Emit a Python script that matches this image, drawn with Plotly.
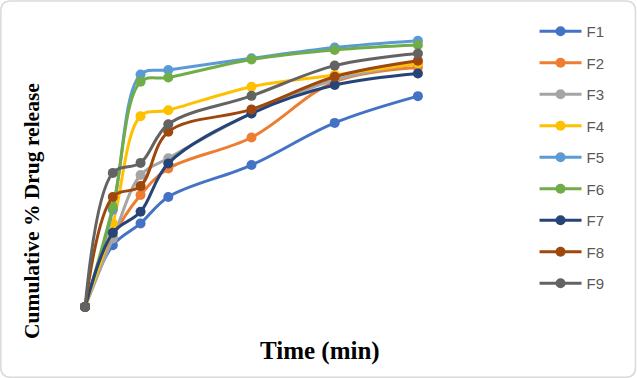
import plotly.graph_objects as go

time_min = [0, 5, 10, 15, 30, 45, 60]
series_names = ["F1", "F2", "F3", "F4", "F5", "F6", "F7", "F8", "F9"]
F1 = [0, 22.8, 30.9, 40.7, 52.5, 68.1, 78.0]
F2 = [0, 25.9, 41.4, 51.2, 62.7, 83.3, 88.6]
F3 = [0, 25.3, 48.8, 55.0, 71.6, 84.0, 90.1]
F4 = [0, 30.9, 70.6, 72.8, 81.5, 85.8, 90.1]
F5 = [0, 36.0, 86.0, 87.7, 92.0, 96.0, 98.5]
F6 = [0, 37.0, 83.3, 84.9, 91.6, 95.1, 96.9]
F7 = [0, 27.4, 35.2, 53.1, 71.6, 82.1, 86.4]
F8 = [0, 40.7, 44.7, 64.8, 73.1, 85.2, 91.1]
F9 = [0, 49.6, 53.3, 67.6, 78.1, 89.3, 93.8]
values = [F1, F2, F3, F4, F5, F6, F7, F8, F9]
colors = ["#4472C4", "#ED7D31", "#A5A5A5", "#FFC000", "#5B9BD5",
          "#70AD47", "#264478", "#9E480E", "#636363"]

W_FIG, H_FIG = 637, 378
L, R, T, B = 74.2, 207.6, 34.0, 63.2
PW, PH = W_FIG - L - R, H_FIG - T - B

def px(x):
    return (x - L) / PW

def py(y):
    return 1 - (y - T) / PH

fig = go.Figure()
for name, vals, col in zip(series_names, values, colors):
    fig.add_trace(go.Scatter(
        x=time_min, y=vals, name=name, mode="lines+markers",
        line=dict(color=col, width=3, shape="spline", smoothing=1),
        marker=dict(color=col, size=10),
        legendgroup=name, cliponaxis=False,
    ))

# rounded border
r = 10
x0, x1, y0, y1 = 1, 636, 1, 377
path = (f"M {px(x0 + r)} {py(y0)} L {px(x1 - r)} {py(y0)} "
        f"Q {px(x1)} {py(y0)} {px(x1)} {py(y0 + r)} "
        f"L {px(x1)} {py(y1 - r)} Q {px(x1)} {py(y1)} {px(x1 - r)} {py(y1)} "
        f"L {px(x0 + r)} {py(y1)} Q {px(x0)} {py(y1)} {px(x0)} {py(y1 - r)} "
        f"L {px(x0)} {py(y0 + r)} Q {px(x0)} {py(y0)} {px(x0 + r)} {py(y0)} Z")
fig.add_shape(type="path", path=path, xref="paper", yref="paper",
              line=dict(color="#D9D9D9", width=1.5), layer="below")

fig.add_annotation(text="<b>Cumulative % Drug release</b>", textangle=-90,
                   x=px(32), y=py(211), xref="paper", yref="paper",
                   showarrow=False, xanchor="center", yanchor="middle",
                   font=dict(family="Liberation Serif", size=21.5, color="#000000"))
fig.add_annotation(text="<b>Time (min)</b>",
                   x=px(320), y=py(351), xref="paper", yref="paper",
                   showarrow=False, xanchor="center", yanchor="middle",
                   font=dict(family="Liberation Serif", size=25, color="#000000"))

fig.update_layout(
    width=W_FIG, height=H_FIG,
    margin=dict(l=L, r=R, t=T, b=B, pad=0, autoexpand=False),
    paper_bgcolor="white", plot_bgcolor="white",
    xaxis=dict(range=[-2, 62], showgrid=False, zeroline=False,
               showticklabels=False, showline=False, ticks=""),
    yaxis=dict(range=[-3, 101], showgrid=False, zeroline=False,
               showticklabels=False, showline=False, ticks=""),
    showlegend=True,
    legend=dict(x=px(535), y=py(15),
                xanchor="left", yanchor="top", maxheight=400,
                font=dict(family="Liberation Sans", size=15, color="#595959"),
                tracegroupgap=9, itemwidth=42, bgcolor="rgba(0,0,0,0)"),
)

fig.write_html("out.html", config={"displayModeBar": False},
               post_script="document.body.style.margin='0';document.body.style.padding='0';")
